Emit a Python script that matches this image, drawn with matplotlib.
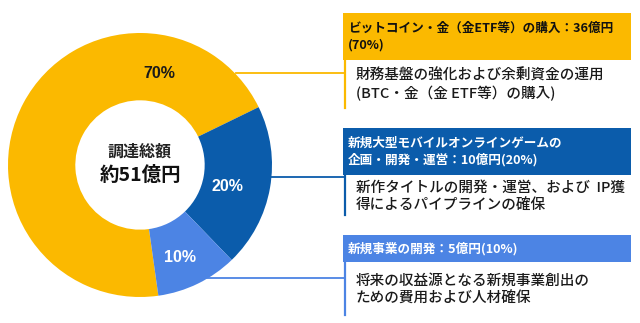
## donut chart of fund usage with callout boxes

import matplotlib.pyplot as plt
from matplotlib.patches import Rectangle

plt.rcParams['font.family'] = ['Noto Sans CJK JP', 'DejaVu Sans']

# data
shares = [70, 20, 10]
pct_labels = ['70%', '20%', '10%']
colors = ['#FBB900', '#0B5CAB', '#4C84E4']
pct_colors = ['#1a1a1a', 'white', 'white']
center_top = '調達総額'
center_bottom = '約51億円'
headers = ['ビットコイン・金（金ETF等）の購入：36億円\n(70%)',
           '新規大型モバイルオンラインゲームの\n企画・開発・運営：10億円(20%)',
           '新規事業の開発：5億円(10%)']
bodies = ['財務基盤の強化および余剰資金の運用\n(BTC・金（金 ETF等）の購入)',
          '新作タイトルの開発・運営、および  IP獲\n得によるパイプラインの確保',
          '将来の収益源となる新規事業創出の\nための費用および人材確保']
header_text_colors = ['#111111', 'white', 'white']

W, H = 640, 323
fig = plt.figure(figsize=(6.4, 3.23), dpi=100)
fig.patch.set_facecolor('white')

# donut
cx, cy, R = 140, 165, 132
pax = fig.add_axes([(cx - R) / W, (H - cy - R) / H, 2 * R / W, 2 * R / H])
pax.pie(shares, colors=colors, startangle=278, counterclock=False,
        radius=1, wedgeprops=dict(width=0.51, linewidth=0))
pax.set_xlim(-1, 1)
pax.set_ylim(-1, 1)
pax.set_aspect('equal')
pax.axis('off')

lab_pos = [(0.15, 0.69), (0.66, -0.16), (0.30, -0.70)]
for (x, y), t, c in zip(lab_pos, pct_labels, pct_colors):
    pax.text(x, y, t, ha='center', va='center', fontsize=11.5, fontweight='bold',
             color=c, family=['Liberation Sans', 'DejaVu Sans'])
pax.text(0, 0.10, center_top, ha='center', va='center', fontsize=11.5,
         fontweight='bold', color='#222222')
pax.text(0, -0.08, center_bottom, ha='center', va='center', fontsize=14,
         fontweight='bold', color='#111111')

# overlay in pixel coords for callouts
ax = fig.add_axes([0, 0, 1, 1])
ax.set_xlim(0, W)
ax.set_ylim(H, 0)
ax.axis('off')
ax.patch.set_alpha(0)

box_x0, box_x1 = 343, 631
head_top = [13, 128, 235]
head_bot = [60, 175, 262]
body_bot = [108, 215, 315]
line_y = [73, 177, 278]
line_x0 = [236, 271, 180]

for i in range(3):
    c = colors[i]
    ax.add_patch(Rectangle((box_x0, head_top[i]), box_x1 - box_x0,
                           head_bot[i] - head_top[i], facecolor=c, edgecolor='none'))
    ax.plot([box_x0 + 1.5, box_x0 + 1.5], [head_bot[i], body_bot[i]], color=c, lw=1.6)
    ax.plot([line_x0[i], box_x0 + 1.5], [line_y[i], line_y[i]], color=c, lw=1.3)
    ax.text(348, (head_top[i] + head_bot[i]) / 2, headers[i], ha='left', va='center',
            fontsize=9.1, fontweight='bold', color=header_text_colors[i], linespacing=1.35)
    ax.text(356, (head_bot[i] + body_bot[i]) / 2 + 1, bodies[i], ha='left', va='center',
            fontsize=10.5, fontweight='medium', color='#1a1a1a', linespacing=1.3)

plt.savefig('out.png', dpi=100)
